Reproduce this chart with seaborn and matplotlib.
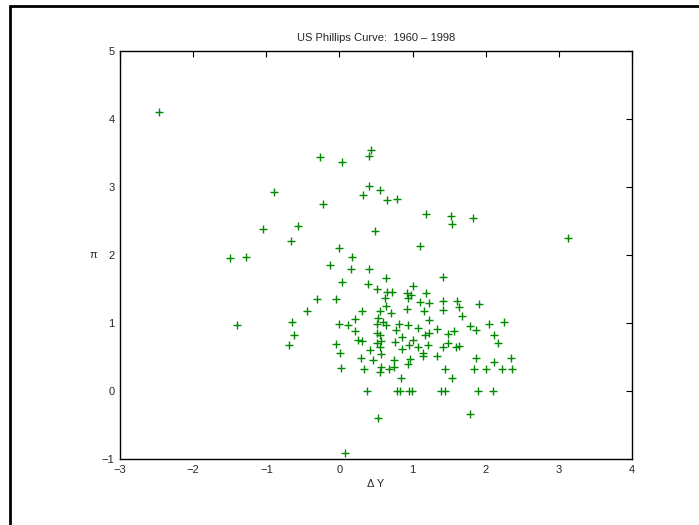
import matplotlib
matplotlib.use("Agg")
import matplotlib.pyplot as plt
from matplotlib.lines import Line2D
import seaborn as sns
import pandas as pd

dy = [-2.46, -0.26, 0.04, 0.40, 0.43, -0.90, 0.41, 0.55, 0.32, 0.65, 0.79, -0.23,
      1.19, 1.52, 1.54, 1.82, 3.13, -1.04, -0.56, 0.48, -0.66, 1.10, 0.00, -1.49,
      -1.28, 0.17, -0.13, 0.16, 0.40, 0.04, 0.39, 0.64, 1.42, 0.51, 1.00, -0.31,
      -0.05, 0.65, 0.72, 0.92, 0.98, 1.18, 0.62, 0.94, 1.10, 1.23, 1.41, 1.61,
      1.91, 0.64, -0.44, 0.31, 0.56, 0.70, 0.93, 1.15, 1.41, 1.63, 1.67, 0.53,
      0.21, -0.65, -1.40, 0.00, 0.12, 0.51, 0.59, 0.63, 0.81, 0.94, 1.23, 1.78,
      2.05, 2.25, -0.62, 0.21, 0.52, 0.55, 0.77, 1.07, 1.34, 1.48, 1.56, 1.87,
      2.12, 1.17, 1.22, 0.86, -0.69, -0.05, 0.25, 0.31, 0.52, 0.55, 0.57, 0.76,
      0.95, 1.01, 1.21, 1.07, 1.41, 1.48, 1.60, 1.63, 2.17, 0.01, 0.42, 0.85,
      0.57, 1.14, 1.14, 0.30, 0.46, 0.75, 0.96, 1.33, 1.87, 2.12, 2.34, 0.02,
      0.33, 0.57, 0.56, 0.68, 0.75, 0.94, 1.44, 1.84, 2.01, 2.22, 2.36, 0.84,
      1.54, 0.38, 0.79, 0.83, 0.95, 0.99, 1.39, 1.44, 1.89, 2.10, 0.53, 1.78,
      0.07]
infl = [4.11, 3.445, 3.37, 3.46, 3.54, 2.92, 3.01, 2.95, 2.88, 2.81, 2.82, 2.75,
        2.60, 2.57, 2.46, 2.55, 2.25, 2.38, 2.42, 2.35, 2.20, 2.13, 2.10, 1.96,
        1.97, 1.97, 1.86, 1.80, 1.79, 1.61, 1.58, 1.66, 1.67, 1.50, 1.54, 1.36,
        1.35, 1.46, 1.46, 1.44, 1.41, 1.44, 1.37, 1.37, 1.31, 1.30, 1.32, 1.32,
        1.28, 1.25, 1.17, 1.18, 1.17, 1.15, 1.21, 1.18, 1.19, 1.23, 1.10, 1.07,
        1.06, 1.02, 0.97, 0.99, 0.97, 0.98, 1.01, 0.97, 0.99, 0.97, 1.04, 0.96,
        0.98, 1.02, 0.83, 0.88, 0.85, 0.83, 0.90, 0.92, 0.91, 0.84, 0.88, 0.89,
        0.82, 0.82, 0.85, 0.79, 0.68, 0.69, 0.75, 0.73, 0.70, 0.64, 0.74, 0.72,
        0.67, 0.75, 0.68, 0.64, 0.65, 0.70, 0.65, 0.66, 0.71, 0.56, 0.61, 0.62,
        0.54, 0.56, 0.52, 0.49, 0.45, 0.45, 0.47, 0.51, 0.49, 0.43, 0.49, 0.34,
        0.33, 0.35, 0.28, 0.33, 0.35, 0.40, 0.33, 0.33, 0.32, 0.33, 0.33, 0.19,
        0.19, 0.00, 0.00, 0.00, 0.00, 0.00, 0.00, 0.00, 0.00, 0.00, -0.40, -0.34,
        -0.91]

xticks = [-3, -2, -1, 0, 1, 2, 3, 4]
yticks = [-1, 0, 1, 2, 3, 4, 5]

df = pd.DataFrame({"dY": dy, "pi": infl})

sns.set_style("white")
plt.rcParams["font.family"] = ["Liberation Sans", "DejaVu Sans"]

fig = plt.figure(figsize=(6.99, 5.25), dpi=100)
ax = fig.add_axes([120/699, 66/525, 512/699, 408/525])
sns.scatterplot(data=df, x="dY", y="pi", marker="+", color="#008800",
                s=30, linewidth=1.0, ax=ax, legend=False)

ax.set_xlim(-3, 4)
ax.set_ylim(-1, 5)
ax.set_xticks(xticks)
ax.set_yticks(yticks)
ax.set_xticklabels([str(t).replace("-", "\u2212") for t in xticks])
ax.set_yticklabels([str(t).replace("-", "\u2212") for t in yticks])
ax.tick_params(direction="in", length=4, width=0.8, top=True, right=True,
               labelsize=8, pad=4, color="black")
for s in ax.spines.values():
    s.set_visible(True)
    s.set_color("black")
    s.set_linewidth(1.0)

ax.set_title("US Phillips Curve:  1960 \u2013 1998", fontsize=8, pad=7)
ax.set_xlabel("\u0394 Y", fontsize=8, labelpad=3)
ax.set_ylabel("\u03c0", fontsize=8, rotation=0, labelpad=6, va="center")

fig.add_artist(Line2D([9.5/699, 9.5/699], [0, 1 - 5.5/525], color="black",
                      linewidth=2, transform=fig.transFigure))
fig.add_artist(Line2D([9.5/699, 1], [1 - 5.5/525, 1 - 5.5/525], color="black",
                      linewidth=2, transform=fig.transFigure))

fig.savefig("out.png", dpi=100)
